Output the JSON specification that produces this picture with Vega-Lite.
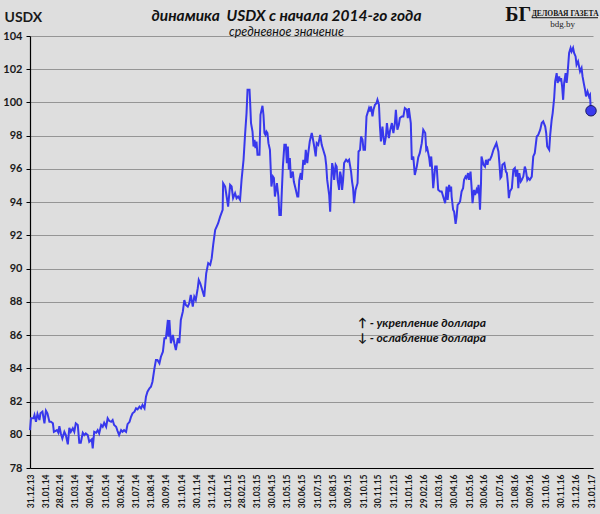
{
  "$schema": "https://vega.github.io/schema/vega-lite/v6.json",
  "width": 563,
  "height": 432,
  "autosize": "none",
  "padding": {"left": 30, "top": 36, "right": 7, "bottom": 46},
  "background": "#dedede",
  "config": {"view": {"stroke": null}, "font": "Lato"},
  "title": {
    "text": "динамика\u00a0 USDX с начала 2014-го года",
    "subtitle": "средневное значение",
    "anchor": "middle",
    "frame": "group",
    "dx": -25,
    "dy": 35,
    "offset": 1,
    "font": "Lato",
    "fontSize": 15.5,
    "fontWeight": "bold",
    "fontStyle": "italic",
    "color": "#111111",
    "subtitleFont": "Lato",
    "subtitleFontSize": 12.5,
    "subtitleFontStyle": "italic",
    "subtitleColor": "#111111",
    "subtitlePadding": 2
  },
  "datasets": {
    "usdx": [
      {"date": "2013-12-31", "value": 80.28},
      {"date": "2014-01-02", "value": 80.99},
      {"date": "2014-01-07", "value": 80.99},
      {"date": "2014-01-09", "value": 81.19},
      {"date": "2014-01-12", "value": 80.78},
      {"date": "2014-01-15", "value": 81.25},
      {"date": "2014-01-19", "value": 80.89},
      {"date": "2014-01-21", "value": 81.29},
      {"date": "2014-01-25", "value": 81.39},
      {"date": "2014-01-29", "value": 80.69},
      {"date": "2014-02-01", "value": 81.45},
      {"date": "2014-02-04", "value": 81.29},
      {"date": "2014-02-08", "value": 80.78},
      {"date": "2014-02-11", "value": 80.78},
      {"date": "2014-02-15", "value": 80.69},
      {"date": "2014-02-17", "value": 80.18},
      {"date": "2014-02-23", "value": 80.28},
      {"date": "2014-02-26", "value": 80.12},
      {"date": "2014-02-28", "value": 80.52},
      {"date": "2014-03-03", "value": 80.08},
      {"date": "2014-03-06", "value": 79.78},
      {"date": "2014-03-10", "value": 80.18},
      {"date": "2014-03-13", "value": 79.98},
      {"date": "2014-03-17", "value": 79.42},
      {"date": "2014-03-20", "value": 80.42},
      {"date": "2014-03-23", "value": 80.18},
      {"date": "2014-03-27", "value": 80.39},
      {"date": "2014-03-30", "value": 80.18},
      {"date": "2014-04-02", "value": 80.69},
      {"date": "2014-04-06", "value": 80.59},
      {"date": "2014-04-09", "value": 79.52},
      {"date": "2014-04-12", "value": 79.52},
      {"date": "2014-04-16", "value": 80.12},
      {"date": "2014-04-19", "value": 79.98},
      {"date": "2014-04-22", "value": 80.08},
      {"date": "2014-04-26", "value": 79.98},
      {"date": "2014-04-29", "value": 79.58},
      {"date": "2014-05-04", "value": 79.72},
      {"date": "2014-05-06", "value": 79.18},
      {"date": "2014-05-09", "value": 80.18},
      {"date": "2014-05-13", "value": 80.12},
      {"date": "2014-05-16", "value": 80.28},
      {"date": "2014-05-19", "value": 80.08},
      {"date": "2014-05-23", "value": 80.59},
      {"date": "2014-05-26", "value": 80.48},
      {"date": "2014-05-29", "value": 80.72},
      {"date": "2014-06-02", "value": 80.48},
      {"date": "2014-06-05", "value": 80.99},
      {"date": "2014-06-08", "value": 80.84},
      {"date": "2014-06-12", "value": 80.78},
      {"date": "2014-06-15", "value": 80.89},
      {"date": "2014-06-18", "value": 80.59},
      {"date": "2014-06-22", "value": 80.48},
      {"date": "2014-06-25", "value": 80.22},
      {"date": "2014-06-28", "value": 79.98},
      {"date": "2014-07-02", "value": 80.28},
      {"date": "2014-07-05", "value": 80.18},
      {"date": "2014-07-08", "value": 80.28},
      {"date": "2014-07-12", "value": 80.18},
      {"date": "2014-07-15", "value": 80.64},
      {"date": "2014-07-19", "value": 80.78},
      {"date": "2014-07-22", "value": 81.08},
      {"date": "2014-07-25", "value": 81.29},
      {"date": "2014-07-29", "value": 81.39},
      {"date": "2014-08-01", "value": 81.59},
      {"date": "2014-08-04", "value": 81.53},
      {"date": "2014-08-08", "value": 81.69},
      {"date": "2014-08-11", "value": 81.59},
      {"date": "2014-08-14", "value": 81.79},
      {"date": "2014-08-18", "value": 81.59},
      {"date": "2014-08-21", "value": 82.29},
      {"date": "2014-08-24", "value": 82.59},
      {"date": "2014-08-28", "value": 82.8},
      {"date": "2014-08-31", "value": 82.89},
      {"date": "2014-09-03", "value": 83.19},
      {"date": "2014-09-07", "value": 84.0},
      {"date": "2014-09-10", "value": 84.5},
      {"date": "2014-09-13", "value": 84.5},
      {"date": "2014-09-17", "value": 84.3},
      {"date": "2014-09-20", "value": 84.7},
      {"date": "2014-09-24", "value": 85.0},
      {"date": "2014-09-27", "value": 85.81},
      {"date": "2014-09-30", "value": 85.81},
      {"date": "2014-10-04", "value": 86.91},
      {"date": "2014-10-05", "value": 85.9},
      {"date": "2014-10-07", "value": 86.91},
      {"date": "2014-10-10", "value": 85.51},
      {"date": "2014-10-14", "value": 86.01},
      {"date": "2014-10-17", "value": 85.51},
      {"date": "2014-10-20", "value": 85.1},
      {"date": "2014-10-24", "value": 85.81},
      {"date": "2014-10-27", "value": 85.51},
      {"date": "2014-10-30", "value": 86.91},
      {"date": "2014-11-03", "value": 87.41},
      {"date": "2014-11-06", "value": 88.11},
      {"date": "2014-11-09", "value": 87.81},
      {"date": "2014-11-13", "value": 87.71},
      {"date": "2014-11-16", "value": 87.92},
      {"date": "2014-11-19", "value": 88.42},
      {"date": "2014-11-23", "value": 87.71},
      {"date": "2014-11-26", "value": 88.31},
      {"date": "2014-11-29", "value": 88.11},
      {"date": "2014-12-03", "value": 88.82},
      {"date": "2014-12-05", "value": 89.32},
      {"date": "2014-12-08", "value": 89.12},
      {"date": "2014-12-11", "value": 88.82},
      {"date": "2014-12-16", "value": 88.31},
      {"date": "2014-12-20", "value": 89.72},
      {"date": "2014-12-24", "value": 90.33},
      {"date": "2014-12-28", "value": 90.22},
      {"date": "2014-12-31", "value": 90.63},
      {"date": "2015-01-03", "value": 91.43},
      {"date": "2015-01-07", "value": 92.33},
      {"date": "2015-01-10", "value": 92.53},
      {"date": "2015-01-13", "value": 92.73},
      {"date": "2015-01-17", "value": 93.13},
      {"date": "2015-01-22", "value": 93.54},
      {"date": "2015-01-23", "value": 95.14},
      {"date": "2015-01-27", "value": 94.94},
      {"date": "2015-01-30", "value": 94.34},
      {"date": "2015-02-02", "value": 93.73},
      {"date": "2015-02-06", "value": 95.04},
      {"date": "2015-02-09", "value": 94.94},
      {"date": "2015-02-12", "value": 94.24},
      {"date": "2015-02-16", "value": 94.54},
      {"date": "2015-02-19", "value": 94.24},
      {"date": "2015-02-22", "value": 94.34},
      {"date": "2015-02-26", "value": 94.14},
      {"date": "2015-03-01", "value": 95.34},
      {"date": "2015-03-05", "value": 96.55},
      {"date": "2015-03-08", "value": 98.05},
      {"date": "2015-03-11", "value": 99.36},
      {"date": "2015-03-13", "value": 100.77},
      {"date": "2015-03-17", "value": 100.77},
      {"date": "2015-03-18", "value": 100.16},
      {"date": "2015-03-20", "value": 98.76},
      {"date": "2015-03-23", "value": 98.25},
      {"date": "2015-03-25", "value": 97.35},
      {"date": "2015-03-27", "value": 97.75},
      {"date": "2015-03-29", "value": 97.25},
      {"date": "2015-03-31", "value": 97.65},
      {"date": "2015-04-02", "value": 96.85},
      {"date": "2015-04-06", "value": 96.85},
      {"date": "2015-04-08", "value": 99.26},
      {"date": "2015-04-12", "value": 99.8},
      {"date": "2015-04-14", "value": 99.26},
      {"date": "2015-04-16", "value": 98.16},
      {"date": "2015-04-18", "value": 98.05},
      {"date": "2015-04-20", "value": 98.25},
      {"date": "2015-04-22", "value": 98.16},
      {"date": "2015-04-24", "value": 97.55},
      {"date": "2015-04-27", "value": 97.15},
      {"date": "2015-04-30", "value": 94.94},
      {"date": "2015-05-03", "value": 95.54},
      {"date": "2015-05-05", "value": 95.45},
      {"date": "2015-05-07", "value": 94.34},
      {"date": "2015-05-11", "value": 95.14},
      {"date": "2015-05-14", "value": 94.34},
      {"date": "2015-05-16", "value": 93.23},
      {"date": "2015-05-19", "value": 93.23},
      {"date": "2015-05-21", "value": 94.74},
      {"date": "2015-05-23", "value": 96.14},
      {"date": "2015-05-26", "value": 97.45},
      {"date": "2015-05-29", "value": 97.45},
      {"date": "2015-05-31", "value": 96.35},
      {"date": "2015-06-02", "value": 97.35},
      {"date": "2015-06-04", "value": 95.95},
      {"date": "2015-06-06", "value": 96.65},
      {"date": "2015-06-08", "value": 95.45},
      {"date": "2015-06-12", "value": 95.84},
      {"date": "2015-06-14", "value": 95.24},
      {"date": "2015-06-18", "value": 94.74},
      {"date": "2015-06-21", "value": 94.34},
      {"date": "2015-06-23", "value": 94.34},
      {"date": "2015-06-25", "value": 95.34},
      {"date": "2015-06-28", "value": 95.75},
      {"date": "2015-06-30", "value": 95.34},
      {"date": "2015-07-03", "value": 96.55},
      {"date": "2015-07-06", "value": 96.25},
      {"date": "2015-07-08", "value": 97.15},
      {"date": "2015-07-11", "value": 96.35},
      {"date": "2015-07-13", "value": 96.95},
      {"date": "2015-07-16", "value": 97.65},
      {"date": "2015-07-20", "value": 98.16},
      {"date": "2015-07-22", "value": 97.86},
      {"date": "2015-07-25", "value": 97.35},
      {"date": "2015-07-28", "value": 96.75},
      {"date": "2015-07-30", "value": 97.55},
      {"date": "2015-08-02", "value": 97.45},
      {"date": "2015-08-06", "value": 98.05},
      {"date": "2015-08-09", "value": 97.45},
      {"date": "2015-08-12", "value": 97.15},
      {"date": "2015-08-16", "value": 96.75},
      {"date": "2015-08-18", "value": 96.25},
      {"date": "2015-08-20", "value": 95.34},
      {"date": "2015-08-24", "value": 94.44},
      {"date": "2015-08-26", "value": 93.43},
      {"date": "2015-08-28", "value": 95.14},
      {"date": "2015-08-30", "value": 96.35},
      {"date": "2015-09-01", "value": 96.05},
      {"date": "2015-09-03", "value": 95.34},
      {"date": "2015-09-06", "value": 96.25},
      {"date": "2015-09-08", "value": 96.14},
      {"date": "2015-09-10", "value": 95.34},
      {"date": "2015-09-13", "value": 94.74},
      {"date": "2015-09-15", "value": 95.84},
      {"date": "2015-09-17", "value": 95.54},
      {"date": "2015-09-19", "value": 94.74},
      {"date": "2015-09-21", "value": 95.34},
      {"date": "2015-09-23", "value": 96.35},
      {"date": "2015-09-27", "value": 96.55},
      {"date": "2015-09-30", "value": 96.45},
      {"date": "2015-10-03", "value": 96.55},
      {"date": "2015-10-07", "value": 95.84},
      {"date": "2015-10-09", "value": 95.24},
      {"date": "2015-10-11", "value": 94.84},
      {"date": "2015-10-13", "value": 93.94},
      {"date": "2015-10-16", "value": 94.74},
      {"date": "2015-10-18", "value": 94.94},
      {"date": "2015-10-20", "value": 95.14},
      {"date": "2015-10-22", "value": 97.05},
      {"date": "2015-10-25", "value": 97.15},
      {"date": "2015-10-27", "value": 97.95},
      {"date": "2015-10-30", "value": 97.75},
      {"date": "2015-11-01", "value": 97.15},
      {"date": "2015-11-04", "value": 97.15},
      {"date": "2015-11-07", "value": 99.16},
      {"date": "2015-11-09", "value": 99.36},
      {"date": "2015-11-12", "value": 99.66},
      {"date": "2015-11-14", "value": 99.46},
      {"date": "2015-11-16", "value": 99.76},
      {"date": "2015-11-19", "value": 99.16},
      {"date": "2015-11-21", "value": 99.56},
      {"date": "2015-11-24", "value": 99.86},
      {"date": "2015-11-27", "value": 99.96},
      {"date": "2015-11-29", "value": 100.16},
      {"date": "2015-12-02", "value": 99.86},
      {"date": "2015-12-04", "value": 98.55},
      {"date": "2015-12-06", "value": 97.65},
      {"date": "2015-12-09", "value": 98.55},
      {"date": "2015-12-11", "value": 97.95},
      {"date": "2015-12-13", "value": 97.45},
      {"date": "2015-12-16", "value": 97.95},
      {"date": "2015-12-18", "value": 98.76},
      {"date": "2015-12-20", "value": 98.25},
      {"date": "2015-12-22", "value": 97.86},
      {"date": "2015-12-24", "value": 98.25},
      {"date": "2015-12-28", "value": 98.76},
      {"date": "2015-12-31", "value": 98.16},
      {"date": "2016-01-03", "value": 98.76},
      {"date": "2016-01-05", "value": 99.56},
      {"date": "2016-01-08", "value": 98.36},
      {"date": "2016-01-11", "value": 98.66},
      {"date": "2016-01-13", "value": 99.06},
      {"date": "2016-01-17", "value": 99.16},
      {"date": "2016-01-20", "value": 99.16},
      {"date": "2016-01-23", "value": 99.66},
      {"date": "2016-01-27", "value": 99.56},
      {"date": "2016-01-29", "value": 99.06},
      {"date": "2016-01-31", "value": 99.66},
      {"date": "2016-02-04", "value": 98.76},
      {"date": "2016-02-06", "value": 96.55},
      {"date": "2016-02-09", "value": 96.75},
      {"date": "2016-02-12", "value": 95.64},
      {"date": "2016-02-16", "value": 96.14},
      {"date": "2016-02-19", "value": 96.7},
      {"date": "2016-02-22", "value": 96.95},
      {"date": "2016-02-26", "value": 97.55},
      {"date": "2016-02-29", "value": 98.36},
      {"date": "2016-03-04", "value": 98.16},
      {"date": "2016-03-06", "value": 97.15},
      {"date": "2016-03-08", "value": 97.25},
      {"date": "2016-03-12", "value": 96.65},
      {"date": "2016-03-14", "value": 96.14},
      {"date": "2016-03-16", "value": 96.75},
      {"date": "2016-03-18", "value": 95.95},
      {"date": "2016-03-20", "value": 94.84},
      {"date": "2016-03-24", "value": 96.14},
      {"date": "2016-03-27", "value": 96.14},
      {"date": "2016-03-30", "value": 94.74},
      {"date": "2016-04-03", "value": 94.64},
      {"date": "2016-04-06", "value": 94.64},
      {"date": "2016-04-09", "value": 94.34},
      {"date": "2016-04-13", "value": 93.94},
      {"date": "2016-04-16", "value": 94.94},
      {"date": "2016-04-18", "value": 94.14},
      {"date": "2016-04-21", "value": 95.04},
      {"date": "2016-04-23", "value": 94.64},
      {"date": "2016-04-25", "value": 94.94},
      {"date": "2016-04-26", "value": 94.34},
      {"date": "2016-04-29", "value": 93.54},
      {"date": "2016-05-01", "value": 93.43},
      {"date": "2016-05-04", "value": 92.69},
      {"date": "2016-05-06", "value": 93.13},
      {"date": "2016-05-08", "value": 93.84},
      {"date": "2016-05-11", "value": 93.94},
      {"date": "2016-05-13", "value": 94.04},
      {"date": "2016-05-16", "value": 94.64},
      {"date": "2016-05-19", "value": 94.84},
      {"date": "2016-05-21", "value": 95.34},
      {"date": "2016-05-24", "value": 95.54},
      {"date": "2016-05-26", "value": 95.45},
      {"date": "2016-05-29", "value": 95.75},
      {"date": "2016-05-31", "value": 95.34},
      {"date": "2016-06-03", "value": 95.84},
      {"date": "2016-06-05", "value": 94.94},
      {"date": "2016-06-07", "value": 93.94},
      {"date": "2016-06-10", "value": 94.74},
      {"date": "2016-06-12", "value": 94.44},
      {"date": "2016-06-15", "value": 94.74},
      {"date": "2016-06-17", "value": 94.54},
      {"date": "2016-06-19", "value": 95.04},
      {"date": "2016-06-21", "value": 94.14},
      {"date": "2016-06-22", "value": 93.54},
      {"date": "2016-06-24", "value": 95.14},
      {"date": "2016-06-25", "value": 96.75},
      {"date": "2016-06-29", "value": 96.25},
      {"date": "2016-07-02", "value": 96.14},
      {"date": "2016-07-04", "value": 96.55},
      {"date": "2016-07-07", "value": 96.25},
      {"date": "2016-07-09", "value": 96.55},
      {"date": "2016-07-12", "value": 96.55},
      {"date": "2016-07-15", "value": 96.75},
      {"date": "2016-07-19", "value": 97.15},
      {"date": "2016-07-22", "value": 97.35},
      {"date": "2016-07-25", "value": 97.55},
      {"date": "2016-07-29", "value": 97.05},
      {"date": "2016-07-31", "value": 96.35},
      {"date": "2016-08-02", "value": 95.45},
      {"date": "2016-08-04", "value": 95.54},
      {"date": "2016-08-06", "value": 96.25},
      {"date": "2016-08-10", "value": 96.35},
      {"date": "2016-08-13", "value": 95.84},
      {"date": "2016-08-15", "value": 95.75},
      {"date": "2016-08-17", "value": 95.14},
      {"date": "2016-08-19", "value": 94.24},
      {"date": "2016-08-21", "value": 94.64},
      {"date": "2016-08-25", "value": 94.84},
      {"date": "2016-08-28", "value": 95.95},
      {"date": "2016-08-31", "value": 96.05},
      {"date": "2016-09-02", "value": 95.54},
      {"date": "2016-09-05", "value": 95.95},
      {"date": "2016-09-07", "value": 94.84},
      {"date": "2016-09-09", "value": 95.75},
      {"date": "2016-09-12", "value": 95.24},
      {"date": "2016-09-14", "value": 95.34},
      {"date": "2016-09-17", "value": 95.54},
      {"date": "2016-09-20", "value": 96.14},
      {"date": "2016-09-22", "value": 95.95},
      {"date": "2016-09-25", "value": 95.34},
      {"date": "2016-09-27", "value": 95.45},
      {"date": "2016-09-30", "value": 95.34},
      {"date": "2016-10-04", "value": 95.54},
      {"date": "2016-10-07", "value": 96.75},
      {"date": "2016-10-10", "value": 96.95},
      {"date": "2016-10-14", "value": 97.95},
      {"date": "2016-10-17", "value": 98.05},
      {"date": "2016-10-21", "value": 98.36},
      {"date": "2016-10-24", "value": 98.76},
      {"date": "2016-10-27", "value": 98.86},
      {"date": "2016-10-31", "value": 98.55},
      {"date": "2016-11-02", "value": 98.16},
      {"date": "2016-11-04", "value": 97.35},
      {"date": "2016-11-08", "value": 97.15},
      {"date": "2016-11-10", "value": 98.05},
      {"date": "2016-11-13", "value": 98.96},
      {"date": "2016-11-15", "value": 99.36},
      {"date": "2016-11-18", "value": 100.27},
      {"date": "2016-11-20", "value": 101.27},
      {"date": "2016-11-23", "value": 101.77},
      {"date": "2016-11-25", "value": 101.17},
      {"date": "2016-11-28", "value": 101.57},
      {"date": "2016-11-30", "value": 101.27},
      {"date": "2016-12-02", "value": 101.47},
      {"date": "2016-12-04", "value": 100.96},
      {"date": "2016-12-06", "value": 100.16},
      {"date": "2016-12-08", "value": 101.17},
      {"date": "2016-12-11", "value": 101.77},
      {"date": "2016-12-13", "value": 101.17},
      {"date": "2016-12-15", "value": 101.77},
      {"date": "2016-12-18", "value": 102.98},
      {"date": "2016-12-21", "value": 103.28},
      {"date": "2016-12-23", "value": 103.07},
      {"date": "2016-12-26", "value": 103.28},
      {"date": "2016-12-28", "value": 102.98},
      {"date": "2016-12-31", "value": 102.77},
      {"date": "2017-01-02", "value": 102.27},
      {"date": "2017-01-05", "value": 102.47},
      {"date": "2017-01-09", "value": 101.87},
      {"date": "2017-01-12", "value": 102.07},
      {"date": "2017-01-14", "value": 101.57},
      {"date": "2017-01-17", "value": 101.07},
      {"date": "2017-01-19", "value": 100.77},
      {"date": "2017-01-21", "value": 100.36},
      {"date": "2017-01-24", "value": 100.66},
      {"date": "2017-01-27", "value": 100.36},
      {"date": "2017-01-29", "value": 100.46},
      {"date": "2017-01-30", "value": 99.86},
      {"date": "2017-01-31", "value": 99.5}
    ],
    "last": [{"date": "2017-01-31", "value": 99.5}],
    "one": [{}]
  },
  "layer": [
    {
      "data": {"name": "usdx"},
      "mark": {"type": "line", "color": "#3838ec", "strokeWidth": 2},
      "encoding": {
        "x": {
          "field": "date",
          "type": "temporal",
          "scale": {
            "type": "utc",
            "domain": [
              {"year": 2013, "month": 12, "date": 31, "utc": true},
              {"year": 2017, "month": 2, "date": 4, "utc": true}
            ]
          },
          "axis": {
            "title": null,
            "grid": false,
            "ticks": false,
            "tickCount": 60,
            "format": "%d.%m.%y",
            "labelAngle": -90,
            "labelOverlap": false,
            "labelFlush": false,
            "labelPadding": 6,
            "labelFont": "Lato",
            "labelFontSize": 8.5,
            "labelFontWeight": "bold",
            "labelColor": "#1a1a1a",
            "domainColor": "#000000",
            "domainWidth": 1.2,
            "values": [
              {"year": 2013, "month": 12, "date": 31, "utc": true},
              {"year": 2014, "month": 1, "date": 31, "utc": true},
              {"year": 2014, "month": 2, "date": 28, "utc": true},
              {"year": 2014, "month": 3, "date": 31, "utc": true},
              {"year": 2014, "month": 4, "date": 30, "utc": true},
              {"year": 2014, "month": 5, "date": 31, "utc": true},
              {"year": 2014, "month": 6, "date": 30, "utc": true},
              {"year": 2014, "month": 7, "date": 31, "utc": true},
              {"year": 2014, "month": 8, "date": 31, "utc": true},
              {"year": 2014, "month": 9, "date": 30, "utc": true},
              {"year": 2014, "month": 10, "date": 31, "utc": true},
              {"year": 2014, "month": 11, "date": 30, "utc": true},
              {"year": 2014, "month": 12, "date": 31, "utc": true},
              {"year": 2015, "month": 1, "date": 31, "utc": true},
              {"year": 2015, "month": 2, "date": 28, "utc": true},
              {"year": 2015, "month": 3, "date": 31, "utc": true},
              {"year": 2015, "month": 4, "date": 30, "utc": true},
              {"year": 2015, "month": 5, "date": 31, "utc": true},
              {"year": 2015, "month": 6, "date": 30, "utc": true},
              {"year": 2015, "month": 7, "date": 31, "utc": true},
              {"year": 2015, "month": 8, "date": 31, "utc": true},
              {"year": 2015, "month": 9, "date": 30, "utc": true},
              {"year": 2015, "month": 10, "date": 31, "utc": true},
              {"year": 2015, "month": 11, "date": 30, "utc": true},
              {"year": 2015, "month": 12, "date": 31, "utc": true},
              {"year": 2016, "month": 1, "date": 31, "utc": true},
              {"year": 2016, "month": 2, "date": 29, "utc": true},
              {"year": 2016, "month": 3, "date": 31, "utc": true},
              {"year": 2016, "month": 4, "date": 30, "utc": true},
              {"year": 2016, "month": 5, "date": 31, "utc": true},
              {"year": 2016, "month": 6, "date": 30, "utc": true},
              {"year": 2016, "month": 7, "date": 31, "utc": true},
              {"year": 2016, "month": 8, "date": 31, "utc": true},
              {"year": 2016, "month": 9, "date": 30, "utc": true},
              {"year": 2016, "month": 10, "date": 31, "utc": true},
              {"year": 2016, "month": 11, "date": 30, "utc": true},
              {"year": 2016, "month": 12, "date": 31, "utc": true},
              {"year": 2017, "month": 1, "date": 31, "utc": true}
            ]
          }
        },
        "y": {
          "field": "value",
          "type": "quantitative",
          "scale": {"domain": [78, 104], "zero": false, "nice": false},
          "axis": {
            "values": [78, 80, 82, 84, 86, 88, 90, 92, 94, 96, 98, 100, 102, 104],
            "tickCount": 30,
            "labelOverlap": false,
            "grid": true,
            "gridColor": "#959595",
            "gridWidth": 1,
            "domainColor": "#000000",
            "domainWidth": 1.2,
            "tickColor": "#000000",
            "tickSize": 4,
            "labelFont": "Lato",
            "labelFontSize": 11,
            "labelFontWeight": "bold",
            "labelColor": "#1a1a1a",
            "labelPadding": 4,
            "title": "USDX",
            "titleAngle": 0,
            "titleX": -26,
            "titleY": -15,
            "titleAlign": "left",
            "titleBaseline": "alphabetic",
            "titleFont": "Lato",
            "titleFontSize": 14,
            "titleFontWeight": "bold",
            "titleColor": "#1a1a1a"
          }
        }
      }
    },
    {
      "data": {"name": "last"},
      "mark": {"type": "point", "filled": true, "size": 110, "color": "#3a3aee", "stroke": "#1c1c60", "strokeWidth": 1, "opacity": 1},
      "encoding": {
        "x": {"field": "date", "type": "temporal"},
        "y": {"field": "value", "type": "quantitative"}
      }
    },
    {
      "data": {"name": "one"},
      "mark": {"type": "text", "align": "left", "baseline": "alphabetic", "font": "Lato", "fontSize": 12, "fontWeight": "bold", "fontStyle": "italic", "color": "#111111", "lineHeight": 15},
      "encoding": {
        "x": {"datum": {"year": 2015, "month": 10, "date": 21, "utc": true}, "type": "temporal"},
        "y": {"datum": 86.49, "type": "quantitative"},
        "text": {"value": ["↑ - укрепление доллара", "↓ - ослабление доллара"]}
      }
    },
    {
      "data": {"name": "one"},
      "mark": {"type": "text", "align": "center", "baseline": "alphabetic", "font": "Liberation Serif", "fontSize": 20, "fontWeight": "bold", "color": "#111111"},
      "encoding": {
        "x": {"datum": {"year": 2016, "month": 9, "date": 7, "utc": true}, "type": "temporal"},
        "y": {"datum": 104.92, "type": "quantitative"},
        "text": {"value": "БГ"}
      }
    },
    {
      "data": {"name": "one"},
      "mark": {"type": "text", "align": "center", "baseline": "alphabetic", "font": "Liberation Serif", "fontSize": 7.5, "fontWeight": "bold", "color": "#111111"},
      "encoding": {
        "x": {"datum": {"year": 2016, "month": 12, "date": 10, "utc": true}, "type": "temporal"},
        "y": {"datum": 105.18, "type": "quantitative"},
        "text": {"value": "ДЕЛОВАЯ ГАЗЕТА"}
      }
    },
    {
      "data": {"name": "one"},
      "mark": {"type": "rule", "color": "#111111", "strokeWidth": 1},
      "encoding": {
        "x": {"datum": {"year": 2016, "month": 10, "date": 4, "utc": true}, "type": "temporal"},
        "x2": {"datum": {"year": 2017, "month": 2, "date": 14, "utc": true}},
        "y": {"datum": 105.1, "type": "quantitative"}
      }
    },
    {
      "data": {"name": "one"},
      "mark": {"type": "text", "align": "center", "baseline": "alphabetic", "font": "Liberation Serif", "fontSize": 9, "color": "#222222"},
      "encoding": {
        "x": {"datum": {"year": 2016, "month": 12, "date": 5, "utc": true}, "type": "temporal"},
        "y": {"datum": 104.56, "type": "quantitative"},
        "text": {"value": "bdg.by"}
      }
    }
  ]
}
